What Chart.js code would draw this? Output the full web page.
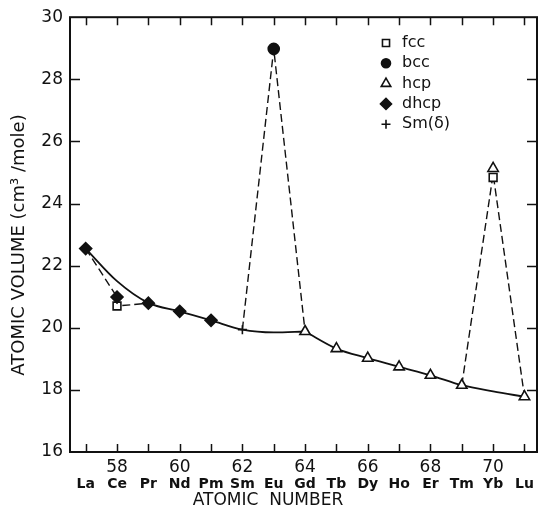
<!DOCTYPE html>
<html>
<head>
<meta charset="utf-8">
<script src="https://cdn.jsdelivr.net/npm/chart.js@4.4.1/dist/chart.umd.min.js"></script>
<style>
  html, body { margin: 0; padding: 0; background: #fff; }
  #wrap { width: 539px; height: 509px; }
</style>
</head>
<body>
<div id="wrap"><canvas id="volumeChart" width="539" height="509"></canvas></div>
<script>
// atomic numbers and element symbols along the x axis
const atomicNumbers = [57, 58, 59, 60, 61, 62, 63, 64, 65, 66, 67, 68, 69, 70, 71];
const elements = ['La', 'Ce', 'Pr', 'Nd', 'Pm', 'Sm', 'Eu', 'Gd', 'Tb', 'Dy', 'Ho', 'Er', 'Tm', 'Yb', 'Lu'];

// smooth trend curve (solid line), drawn in two pieces meeting at Gd
const curveLightZ = [57, 58, 59, 60, 61, 62, 63, 64];
const curveLightVolume = [22.55, 21.5, 20.8, 20.53, 20.24, 19.94, 19.85, 19.88];
const curveHeavyZ = [64, 65, 66, 67, 68, 69, 70, 71];
const curveHeavyVolume = [19.88, 19.33, 19.02, 18.74, 18.47, 18.15, 17.95, 17.78];

// measured points by crystal structure
const fccZ = [58, 70];
const fccVolume = [20.7, 24.84];
const bccZ = [63];
const bccVolume = [28.98];
const hcpZ = [64, 65, 66, 67, 68, 69, 70, 71];
const hcpVolume = [19.88, 19.33, 19.02, 18.74, 18.47, 18.15, 25.13, 17.78];
const dhcpZ = [57, 58, 59, 60, 61];
const dhcpVolume = [22.55, 20.99, 20.79, 20.53, 20.24];
const smZ = [62];
const smVolume = [19.94];

// dashed connecting paths
const dashCeZ = [57, 58, 58, 59];
const dashCeVolume = [22.55, 20.99, 20.7, 20.79];
const dashEuZ = [62, 63, 64];
const dashEuVolume = [19.94, 28.98, 19.88];
const dashYbZ = [69, 70, 71];
const dashYbVolume = [18.15, 24.95, 17.78];

const legendItems = [
  { label: 'fcc', style: 'rect', fill: '#fff', radius: 5 },
  { label: 'bcc', style: 'circle', fill: '#111', radius: 4.5 },
  { label: 'hcp', style: 'triangle', fill: '#fff', radius: 5.5 },
  { label: 'dhcp', style: 'rectRot', fill: '#111', radius: 5.5 },
  { label: 'Sm(δ)', style: 'cross', fill: '#111', radius: 4.5 }
];

const INK = '#111';
const FONT = '"DejaVu Sans", sans-serif';

function pts(xs, ys) {
  return xs.map((x, i) => ({ x: x, y: ys[i] }));
}

function curve(xs, ys) {
  return {
    data: pts(xs, ys),
    borderColor: INK,
    borderWidth: 1.8,
    cubicInterpolationMode: 'monotone',
    pointRadius: 0,
    fill: false,
    order: 4
  };
}

function dashed(xs, ys) {
  return {
    data: pts(xs, ys),
    borderColor: INK,
    borderWidth: 1.4,
    borderDash: [8, 4],
    pointRadius: 0,
    fill: false,
    order: 5
  };
}

function markers(xs, ys, style, fill, radius) {
  return {
    data: pts(xs, ys),
    showLine: false,
    pointStyle: style,
    pointRadius: radius,
    pointBackgroundColor: fill,
    pointBorderColor: INK,
    pointBorderWidth: 1.6,
    order: 1
  };
}

// frame, inward ticks, element symbols, axis titles, legend
const decorations = {
  id: 'decorations',
  afterDraw(chart) {
    const ctx = chart.ctx;
    const a = chart.chartArea;
    const xs = chart.scales.x;
    const ys = chart.scales.y;
    ctx.save();
    ctx.strokeStyle = INK;
    ctx.lineWidth = 2;
    ctx.strokeRect(a.left, a.top, a.right - a.left, a.bottom - a.top);

    ctx.lineWidth = 1.5;
    ctx.beginPath();
    atomicNumbers.forEach(z => {
      const px = Math.round(xs.getPixelForValue(z)) + 0.5;
      ctx.moveTo(px, a.bottom); ctx.lineTo(px, a.bottom - 8);
      ctx.moveTo(px, a.top); ctx.lineTo(px, a.top + 8);
    });
    for (let v = 18; v <= 28; v += 2) {
      const py = Math.round(ys.getPixelForValue(v)) + 0.5;
      ctx.moveTo(a.left, py); ctx.lineTo(a.left + 10, py);
      ctx.moveTo(a.right, py); ctx.lineTo(a.right - 10, py);
    }
    ctx.stroke();

    ctx.fillStyle = INK;
    ctx.textAlign = 'center';
    ctx.textBaseline = 'middle';
    ctx.font = 'bold 14px ' + FONT;
    atomicNumbers.forEach((z, i) => {
      ctx.fillText(elements[i], xs.getPixelForValue(z), 484);
    });

    ctx.font = '17px ' + FONT;
    ctx.fillText('ATOMIC  NUMBER', 268, 501);

    ctx.save();
    ctx.translate(19, 245);
    ctx.rotate(-Math.PI / 2);
    ctx.font = '18px ' + FONT;
    ctx.fillText('ATOMIC VOLUME (cm³ /mole)', 0, 0);
    ctx.restore();

    // legend
    ctx.font = '16px ' + FONT;
    ctx.textAlign = 'left';
    legendItems.forEach((item, i) => {
      const lx = a.left + 316;
      const ly = 43 + i * 20.3;
      ctx.fillStyle = item.fill;
      ctx.strokeStyle = INK;
      ctx.lineWidth = 1.6;
      Chart.helpers.drawPoint(ctx, { pointStyle: item.style, radius: item.radius, borderWidth: 1.6, rotation: 0 }, lx, ly);
      ctx.fillStyle = INK;
      ctx.fillText(item.label, lx + 16, ly);
    });
    ctx.restore();
  }
};

new Chart(document.getElementById('volumeChart').getContext('2d'), {
  type: 'line',
  data: {
    datasets: [
      curve(curveLightZ, curveLightVolume),
      curve(curveHeavyZ, curveHeavyVolume),
      dashed(dashCeZ, dashCeVolume),
      dashed(dashEuZ, dashEuVolume),
      dashed(dashYbZ, dashYbVolume),
      markers(dhcpZ, dhcpVolume, 'rectRot', INK, 6),
      markers(fccZ, fccVolume, 'rect', '#fff', 5.5),
      markers(bccZ, bccVolume, 'circle', INK, 5.5),
      markers(hcpZ, hcpVolume, 'triangle', '#fff', 6),
      markers(smZ, smVolume, 'cross', INK, 4.5)
    ]
  },
  options: {
    responsive: false,
    animation: false,
    layout: { autoPadding: false, padding: { top: 16, right: 2, left: 0, bottom: 0 } },
    plugins: {
      legend: { display: false },
      tooltip: { enabled: false }
    },
    scales: {
      x: {
        type: 'linear',
        min: 56.5,
        max: 71.4,
        grid: { display: false, drawTicks: false },
        border: { display: false },
        ticks: {
          stepSize: 1,
          includeBounds: false,
          autoSkip: false,
          maxRotation: 0,
          padding: 5,
          color: INK,
          font: { family: FONT, size: 17 },
          callback: v => (v % 2 === 0 ? String(v) : '')
        },
        afterFit: s => { s.height = 57; }
      },
      y: {
        min: 16,
        max: 30,
        grid: { display: false, drawTicks: false },
        border: { display: false },
        ticks: {
          stepSize: 2,
          padding: 7,
          color: INK,
          font: { family: FONT, size: 17 }
        },
        afterFit: s => { s.width = 70; }
      }
    }
  },
  plugins: [decorations]
});
</script>
</body>
</html>
